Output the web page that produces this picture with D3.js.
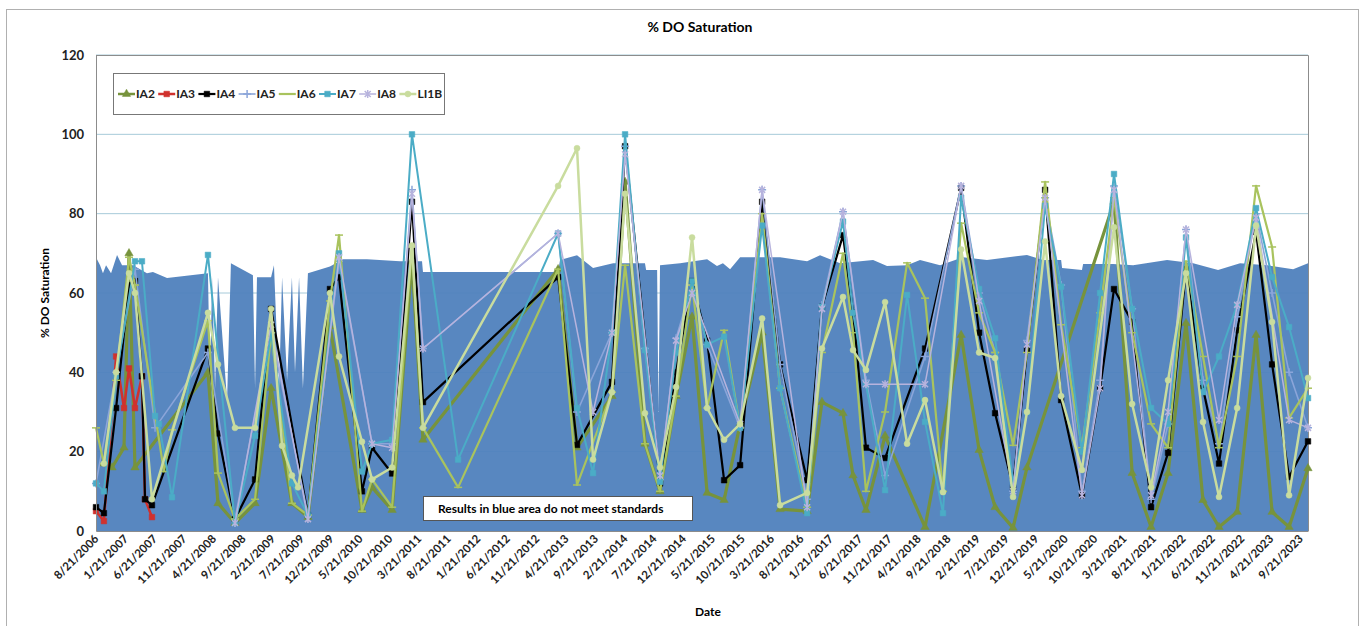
<!DOCTYPE html>
<html>
<head>
<meta charset="utf-8">
<script src="https://cdn.jsdelivr.net/npm/d3@7"></script>
<style>
  body { margin: 0; background: #fff; }
  text { font-family: Lato, "Open Sans", "DejaVu Sans", sans-serif; }
</style>
</head>
<body>
<div id="chart"></div>
<script>
// sample dates shared by every station (blank cells = null)
const sampleDates = [
  "2006-08-21","2006-10-01","2006-11-12","2006-12-03","2007-01-13","2007-02-08","2007-03-11","2007-04-16","2007-05-02","2007-06-07",
  "2007-06-23","2007-07-13","2007-08-08","2007-09-19","2008-03-23","2008-05-14","2008-08-10","2008-11-22","2009-02-13","2009-04-11",
  "2009-06-01","2009-07-03","2009-08-23","2009-12-15","2010-01-31","2010-05-30","2010-07-21","2010-11-02","2011-02-13","2011-04-11",
  "2011-10-10","2013-03-11","2013-06-17","2013-09-08","2013-12-15","2014-02-21","2014-06-04","2014-08-21","2014-11-12","2015-02-03",
  "2015-04-22","2015-07-19","2015-10-10","2016-02-01","2016-05-04","2016-09-21","2016-12-07","2017-03-26","2017-05-17","2017-07-23",
  "2017-10-30","2018-02-21","2018-05-25","2018-08-26","2018-11-28","2019-03-01","2019-05-23","2019-08-24","2019-11-04","2020-02-06",
  "2020-04-29","2020-08-15","2020-11-17","2021-01-28","2021-05-02","2021-08-08","2021-11-04","2022-02-05","2022-05-04","2022-07-26",
  "2022-10-28","2023-02-03","2023-04-27","2023-07-24","2023-10-30"
];

const ia2 = [
  null,17,16,null,21,70,16,null,null,null,
  null,null,null,null,40,7,2,7,36,null,
  7,null,3.5,51.5,null,5.3,11,5.3,68,23,
  null,66,21,null,34,88,22,10,34,54,
  9.6,7.8,27,50,5.5,5,32.5,29.7,14,5.3,
  24,null,1,null,49.4,20.4,6,0.8,16,null,
  null,null,null,83,14.6,1,14.6,52.4,7.8,1,
  4.8,49.4,4.8,1,15.8
];
const ia3 = [
  5,2.5,null,44,31,41,31,39,8,3.5,
  null,null,null,null,null,null,null,null,null,null,
  null,null,null,null,null,null,null,null,null,null,
  null,null,null,null,null,null,null,null,null,null,
  null,null,null,null,null,null,null,null,null,null,
  null,null,null,null,null,null,null,null,null,null,
  null,null,null,null,null,null,null,null,null,null,
  null,null,null,null,null
];
const ia4 = [
  6,4.5,null,31,null,62,63,39,8,6.5,
  null,null,null,null,46,24.6,3,13,56,null,
  null,null,4,61,64,10,21,14.5,83,32.5,
  null,64,21.7,null,37.6,97,null,12,40,63,
  48,12.8,16.6,83,42,12.8,56.5,74.6,55,21,
  18.4,null,46,null,86.5,50,29.7,11,45.6,86,
  33,9,36,61,52.7,6,19.7,66,36,17,
  50.6,75.4,42,13.6,22.6
];
const ia5 = [
  12,null,null,40,null,null,66,null,null,null,
  26,null,null,null,45,null,3,null,50,null,
  null,null,4,null,68,null,22,22,86,46,
  null,75,30,null,50,97,46,13,48.6,62,
  47,null,26,86,42,8,57,80.5,null,38,
  14,null,44,null,87,60,45,10,48,84,
  62,10,38,87,56,8,27,76,38,22,
  54,80,60,40,26
];
const ia6 = [
  26,17,null,38,null,69,62,null,null,null,
  null,null,15,25.5,53,14.6,3,8,50,null,
  7,null,4,58,74.6,5,13,6,71.6,26,
  11,66,11.6,null,35,67,22,10,34,62,
  31,50.6,26,80,36,6,45,70,50,10,
  30,67.6,58.7,10,77.6,55,45,21.6,45,88,
  52,21,55,84,50,27,21,68,44,21,
  44,87,71.6,28.5,36
];
const ia7 = [
  12,10,null,39,null,null,68,68,null,null,
  29,27,null,8.5,69.6,null,2,24,50,null,
  12,null,4,null,70,15,22,23,100,null,
  18,75,31,14.6,50,100,45.6,12.4,45,63,
  47,49,26,77,36,4.5,56.5,78,55,37,
  10.3,59.5,27.5,4.5,84,61,48.6,12,30,82,
  61.6,20,60,90,56,31,27,74,35,44,
  57,81.4,64,51.4,33.5
];
const ia8 = [
  null,null,null,null,null,null,null,null,null,null,
  null,null,null,null,null,null,2,null,52,null,
  null,null,3,null,69,null,22,21,85,46,
  null,75,null,30,50,95,null,14,48,60,
  null,null,27,86,null,6,56,80.5,null,37,
  37,null,37,null,87,58,null,10,47,84,
  null,9,36,86,null,9,30,76,null,28,
  57,79,null,28,26
];
const li1b = [
  null,17,null,40,null,65,60,null,null,8,
  null,null,null,null,55,42,26,26,56,21.5,
  14,11,null,60,44,22.5,13,16,72,26,
  null,87,96.5,18,35,85,29.7,16,36.3,74,
  31,23,27,53.6,6.5,9.6,46,59,45.6,40.6,
  57.7,22,33,9.8,71,45,43.6,8.6,30,73,
  34,15.4,null,76.6,32,11,38,65,27.5,8.6,
  31,77,52.7,9,38.6
];

// standard (blue area); the dips are blank/partial cells in the sheet
const stdDates = [
  "2006-08-21","2006-09-11","2006-09-26","2006-10-12","2006-11-07","2006-12-08","2007-01-03","2007-03-01","2007-05-12","2007-06-12",
  "2007-08-24","2008-03-23","2008-04-03","2008-04-13","2008-04-29","2008-05-14","2008-06-30","2008-07-20","2008-11-11","2008-11-22",
  "2008-12-02","2009-02-13","2009-02-28","2009-03-26","2009-04-11","2009-05-07","2009-06-01","2009-06-17","2009-07-08","2009-07-28",
  "2009-08-23","2009-12-15","2010-02-21","2010-06-25","2010-12-13","2011-04-06","2011-04-11","2013-03-11","2013-03-21","2013-06-17",
  "2013-09-08","2013-12-21","2014-06-04","2014-06-10","2014-08-06","2014-08-13","2014-08-21","2014-12-03","2015-04-22","2015-06-12",
  "2015-07-13","2015-08-19","2015-10-10","2016-05-04","2016-09-21","2016-11-27","2017-03-11","2017-08-29","2017-11-09","2018-02-21",
  "2018-04-29","2018-08-11","2018-12-08","2019-04-11","2019-11-04","2020-01-26","2020-04-29","2020-05-04","2020-08-15","2020-08-21",
  "2021-01-23","2021-05-07","2021-10-30","2022-03-14","2022-07-21","2022-11-12","2023-04-01","2023-08-14","2023-10-30"
];
const stdValues = [
  69,67,65,67,65,69.6,67,67,65,65.3,
  63.8,65,36,64,36,64,33,67.5,64.5,36,
  64,64,67,35,64,38,64,40,64,36,
  65,66.7,68.5,68.5,68,68,65.3,65.3,68.3,69.5,
  66.3,67.5,67.5,65.8,65.8,30,67,67.5,68.5,66.8,
  67.5,66,69,69,68,69.5,67.5,68.3,66.8,67,
  68.3,67,69,68.3,69.6,68.3,68.3,66.3,65.8,67.3,
  67.3,67,68.3,67.5,65.8,67.5,67,66,67.5
];

const tickLabels = [
  "8/21/2006","1/21/2007","6/21/2007","11/21/2007","4/21/2008","9/21/2008","2/21/2009","7/21/2009","12/21/2009","5/21/2010",
  "10/21/2010","3/21/2011","8/21/2011","1/21/2012","6/21/2012","11/21/2012","4/21/2013","9/21/2013","2/21/2014","7/21/2014",
  "12/21/2014","5/21/2015","10/21/2015","3/21/2016","8/21/2016","1/21/2017","6/21/2017","11/21/2017","4/21/2018","9/21/2018",
  "2/21/2019","7/21/2019","12/21/2019","5/21/2020","10/21/2020","3/21/2021","8/21/2021","1/21/2022","6/21/2022","11/21/2022",
  "4/21/2023","9/21/2023"
];
const yTicks = [0, 20, 40, 60, 80, 100, 120];

const seriesNames = ["IA2","IA3","IA4","IA5","IA6","IA7","IA8","LI1B"];
const seriesValues = [ia2, ia3, ia4, ia5, ia6, ia7, ia8, li1b];
const seriesColors = ["#77933c","#d0312d","#000000","#8ba5d9","#a9c35e","#4bacc6","#b7b3dd","#c9dc9e"];
const seriesWidths = [3.2, 2.5, 2.2, 1.6, 2.2, 2, 1.5, 2.5];
const seriesMarkers = ["triangle","square","square","plus","dash","square","star","circle"];

const svgWidth = 1364, svgHeight = 626;
const plotLeft = 96, plotRight = 1308, plotTop = 55, plotBottom = 531;

const parseDate = d3.timeParse("%Y-%m-%d");
const parseTick = d3.timeParse("%m/%d/%Y");

const svg = d3.select("#chart").append("svg")
  .attr("width", svgWidth)
  .attr("height", svgHeight);

// outer chart frame
svg.append("rect")
  .attr("x", 6.5).attr("y", 9.5)
  .attr("width", 1352).attr("height", 640)
  .attr("fill", "#fff")
  .attr("stroke", "#b0b0b0");

const x = d3.scaleTime()
  .domain([parseDate("2006-08-21"), parseDate("2023-10-30")])
  .range([plotLeft, plotRight]);
const y = d3.scaleLinear().domain([0, 120]).range([plotBottom, plotTop]);

// gridlines
svg.append("g")
  .selectAll("line")
  .data(yTicks.slice(1))
  .enter().append("line")
  .attr("x1", plotLeft).attr("x2", plotRight)
  .attr("y1", d => y(d)).attr("y2", d => y(d))
  .attr("stroke", "#a6cad9")
  .attr("stroke-width", 1);

// standard area
const stdData = stdDates.map((d, i) => ({date: parseDate(d), v: stdValues[i]}));
const area = d3.area()
  .x(d => x(d.date))
  .y0(y(0))
  .y1(d => y(d.v));
svg.append("path")
  .datum(stdData)
  .attr("d", area)
  .attr("fill", "#4f81bd")
  .attr("fill-opacity", 0.95);

// plot border (top/right)
svg.append("path")
  .attr("d", `M${plotLeft},${plotTop + 0.5}H${plotRight + 0.5}V${plotBottom}`)
  .attr("fill", "none")
  .attr("stroke", "#8c8c8c");

function markerPath(type) {
  if (type === "triangle") return d3.symbol(d3.symbolTriangle, 30)();
  if (type === "square") return "M-2.8,-2.8H2.8V2.8H-2.8Z";
  if (type === "circle") return d3.symbol(d3.symbolCircle, 28)();
  if (type === "plus") return "M-4,0H4M0,-4V4";
  if (type === "dash") return "M-4,0H4";
  if (type === "star") return "M-3,-3L3,3M-3,3L3,-3M0,-4V4";
  return "";
}
function isStroked(type) {
  return type === "plus" || type === "dash" || type === "star";
}

const line = d3.line()
  .x(d => x(d.date))
  .y(d => y(d.v));

seriesNames.forEach((name, s) => {
  const pts = sampleDates
    .map((d, i) => ({date: parseDate(d), v: seriesValues[s][i]}))
    .filter(d => d.v !== null);
  const g = svg.append("g").attr("class", "series-" + name);
  g.append("path")
    .datum(pts)
    .attr("d", line)
    .attr("fill", "none")
    .attr("stroke", seriesColors[s])
    .attr("stroke-width", seriesWidths[s])
    .attr("stroke-linejoin", "round");
  g.selectAll(".mk")
    .data(pts)
    .enter().append("path")
    .attr("class", "mk")
    .attr("transform", d => `translate(${x(d.date)},${y(d.v)})`)
    .attr("d", markerPath(seriesMarkers[s]))
    .attr("fill", isStroked(seriesMarkers[s]) ? "none" : seriesColors[s])
    .attr("stroke", seriesColors[s])
    .attr("stroke-width", isStroked(seriesMarkers[s]) ? 1.5 : 0.5);
});

// y axis
const yAxis = svg.append("g")
  .attr("transform", `translate(${plotLeft},0)`)
  .call(d3.axisLeft(y).tickValues(yTicks).tickSize(0).tickPadding(12));
yAxis.select(".domain").attr("stroke", "#8c8c8c");
yAxis.selectAll("text")
  .attr("font-size", 13)
  .attr("font-weight", "bold")
  .attr("fill", "#222");

// x axis
const tickDates = tickLabels.map(parseTick);
const xAxis = svg.append("g")
  .attr("transform", `translate(0,${plotBottom})`)
  .call(d3.axisBottom(x).tickValues(tickDates).tickFormat((d, i) => tickLabels[i]).tickSize(0));
xAxis.select(".domain").attr("stroke", "#8c8c8c");
xAxis.selectAll("text")
  .attr("font-size", 11.5)
  .attr("font-weight", "bold")
  .attr("fill", "#222")
  .attr("text-anchor", "end")
  .attr("x", -4)
  .attr("y", 4)
  .attr("dy", "0.35em")
  .attr("transform", "rotate(-45)");

// titles
svg.append("text")
  .attr("x", 700).attr("y", 32)
  .attr("text-anchor", "middle")
  .attr("font-size", 14).attr("font-weight", "bold")
  .text("% DO Saturation");
svg.append("text")
  .attr("transform", "translate(49,293) rotate(-90)")
  .attr("text-anchor", "middle")
  .attr("font-size", 12).attr("font-weight", "bold")
  .text("% DO Saturation");
svg.append("text")
  .attr("x", 708).attr("y", 616)
  .attr("text-anchor", "middle")
  .attr("font-size", 12).attr("font-weight", "bold")
  .text("Date");

// note box
const note = svg.append("g");
note.append("rect")
  .attr("x", 423.5).attr("y", 496.5)
  .attr("width", 269).attr("height", 24)
  .attr("fill", "#fff")
  .attr("stroke", "#555");
note.append("text")
  .attr("x", 438).attr("y", 513)
  .attr("font-size", 12).attr("font-weight", "bold")
  .text("Results in blue area do not meet standards");

// legend
const legend = svg.append("g");
legend.append("rect")
  .attr("x", 113.5).attr("y", 73.5)
  .attr("width", 331).attr("height", 41)
  .attr("fill", "#fff")
  .attr("stroke", "#777");
seriesNames.forEach((name, s) => {
  const lx = 118 + s * 40.2;
  const item = legend.append("g").attr("transform", `translate(${lx},94)`);
  item.append("line")
    .attr("x1", 0).attr("x2", 17)
    .attr("stroke", seriesColors[s])
    .attr("stroke-width", Math.min(seriesWidths[s], 2.5));
  item.append("path")
    .attr("transform", "translate(8.5,0)")
    .attr("d", markerPath(seriesMarkers[s]))
    .attr("fill", isStroked(seriesMarkers[s]) ? "none" : seriesColors[s])
    .attr("stroke", seriesColors[s])
    .attr("stroke-width", isStroked(seriesMarkers[s]) ? 1.5 : 0.5);
  item.append("text")
    .attr("x", 18).attr("dy", "0.36em")
    .attr("font-size", 12).attr("font-weight", "bold")
    .attr("fill", "#222")
    .text(name);
});
</script>
</body>
</html>
